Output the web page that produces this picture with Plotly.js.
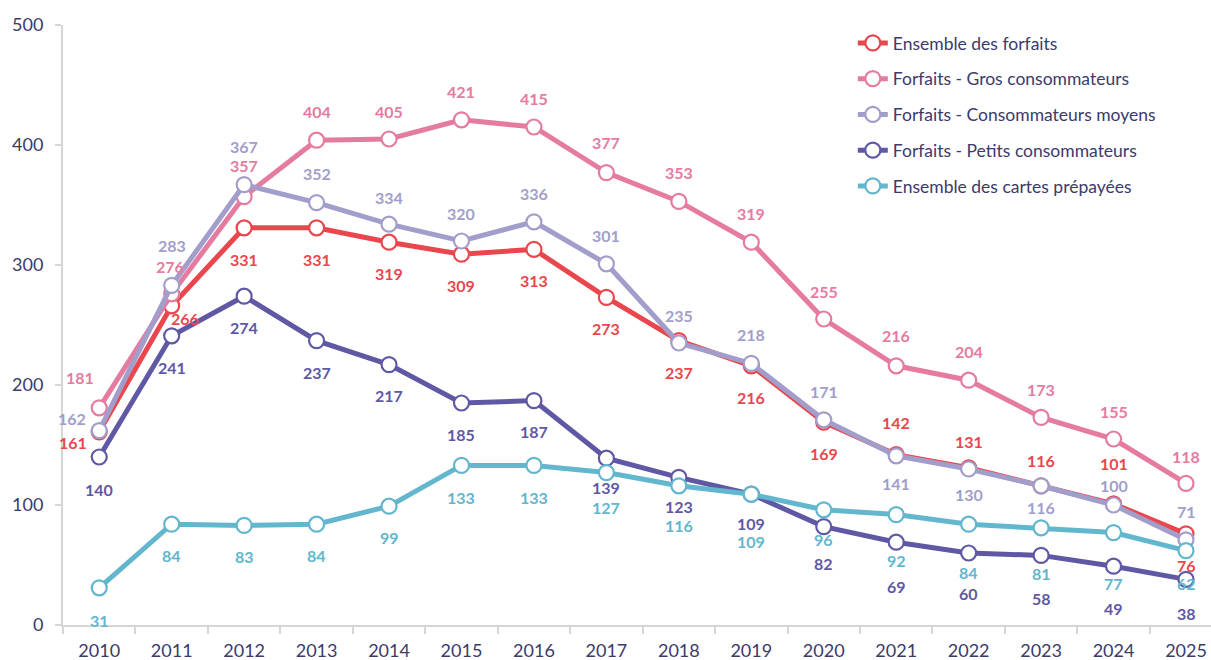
<!DOCTYPE html>
<html>
<head>
<meta charset="utf-8">
<script src="https://cdn.plot.ly/plotly-3.0.1.min.js"></script>
<style>
  html, body { margin: 0; padding: 0; background: #ffffff; }
  #chart { width: 1211px; height: 660px; }
</style>
</head>
<body>
<div id="chart"></div>
<script>
// ---- Data ----
const years = ['2010','2011','2012','2013','2014','2015','2016','2017','2018','2019','2020','2021','2022','2023','2024','2025'];
const ensembleForfaits = [161, 266, 331, 331, 319, 309, 313, 273, 237, 216, 169, 142, 131, 116, 101, 76];
const grosConsommateurs = [181, 276, 357, 404, 405, 421, 415, 377, 353, 319, 255, 216, 204, 173, 155, 118];
const consommateursMoyens = [162, 283, 367, 352, 334, 320, 336, 301, 235, 218, 171, 141, 130, 116, 100, 71];
const petitsConsommateurs = [140, 241, 274, 237, 217, 185, 187, 139, 123, 109, 82, 69, 60, 58, 49, 38];
const cartesPrepayees = [31, 84, 83, 84, 99, 133, 133, 127, 116, 109, 96, 92, 84, 81, 77, 62];
const seriesNames = ['Ensemble des forfaits', 'Forfaits - Gros consommateurs', 'Forfaits - Consommateurs moyens', 'Forfaits - Petits consommateurs', 'Ensemble des cartes prépayées'];

// ---- Styling (label placement offsets in px, positive = downward) ----
const colors = ['#e9474d', '#e57b9f', '#a29ecb', '#5f58a5', '#62b6cd'];
const labelDy = [
  [11, 13, 32, 32, 31, 31, 31, 31, 32, 32, 31, -32, -26, -25, -40, 32],
  [-30, -27, -31, -29, -28, -28, -29, -30, -29, -29, -28, -30, -29, -28, -28, -27],
  [-12, -40, -38, -29, -27, -28, -28, -28, -28, -29, -28, 28, 25, 22, -20, -28],
  [32, 32, 31, 32, 31, 31, 31, 29, 29, 29, 37, 44, 40, 43, 42, 34],
  [33, 31, 31, 31, 31, 32, 32, 35, 40, 47, 30, 46, 48, 46, 51, 33]
];
const labelDx = [
  [-26, 13, 0, 0, 0, 0, 0, 0, 0, 0, 0, 0, 0, 0, 0, 0],
  [-19, -2, 0, 0, 0, 0, 0, 0, 0, 0, 0, 0, 0, 0, 0, 0],
  [-27, 0, 0, 0, 0, 0, 0, 0, 0, 0, 0, 0, 0, 0, 0, 0],
  [0, 0, 0, 0, 0, 0, 0, 0, 0, 0, 0, 0, 0, 0, 0, 0],
  [0, 0, 0, 0, 0, 0, 0, 0, 0, 0, 0, 0, 0, 0, 0, 0]
];

const allSeries = [ensembleForfaits, grosConsommateurs, consommateursMoyens, petitsConsommateurs, cartesPrepayees];
const FONT = 'Lato, "Open Sans", "DejaVu Sans", sans-serif';
const textColor = '#3b3a6b';

const traces = allSeries.map((vals, i) => ({
  type: 'scatter',
  mode: 'lines+markers',
  name: seriesNames[i],
  x: years,
  y: vals,
  legendgroup: 'g' + i,
  line: { color: colors[i], width: 5 },
  marker: { symbol: 'circle', size: 15, color: '#ffffff', line: { color: colors[i], width: 2.2 } },
  hoverinfo: 'x+y+name'
}));

// Value labels: placed at each point via the category index on the x axis
const annotations = [];
allSeries.forEach((vals, i) => {
  vals.forEach((v, j) => {
    annotations.push({
      xref: 'x', yref: 'y',
      x: j, y: v,
      text: String(v),
      showarrow: false,
      xanchor: 'center', yanchor: 'middle',
      xshift: labelDx[i][j],
      yshift: -labelDy[i][j],
      font: { family: FONT, size: 16, color: colors[i], weight: 700 }
    });
  });
});

const layout = {
  width: 1211,
  height: 660,
  margin: { l: 63, r: 0, t: 25, b: 35 },
  paper_bgcolor: '#ffffff',
  plot_bgcolor: '#ffffff',
  font: { family: FONT, size: 18, color: textColor },
  showlegend: true,
  legend: {
    x: 0.688, y: 1.0, xanchor: 'left', yanchor: 'top',
    font: { family: FONT, size: 17.5, color: textColor },
    traceorder: 'grouped',
    tracegroupgap: 10,
    bgcolor: 'rgba(255,255,255,0)',
    itemwidth: 30
  },
  xaxis: {
    type: 'category',
    range: [-0.5, 15.345],
    showgrid: false,
    zeroline: false,
    showline: true,
    linecolor: '#d6d6d6',
    linewidth: 2,
    ticks: 'outside',
    tickson: 'boundaries',
    ticklen: 7,
    tickwidth: 2,
    tickcolor: '#d6d6d6',
    tickfont: { family: FONT, size: 18, color: textColor },
    ticklabelstandoff: 8,
    fixedrange: true
  },
  yaxis: {
    range: [0, 500],
    tickvals: [0, 100, 200, 300, 400, 500],
    showgrid: false,
    zeroline: false,
    showline: true,
    linecolor: '#d6d6d6',
    linewidth: 2,
    ticks: 'outside',
    ticklen: 6,
    tickwidth: 2,
    tickcolor: '#d6d6d6',
    tickfont: { family: FONT, size: 18, color: textColor },
    ticklabelstandoff: 8,
    fixedrange: true
  },
  annotations: annotations
};

Plotly.newPlot('chart', traces, layout, { displayModeBar: false, staticPlot: true });
</script>
</body>
</html>
